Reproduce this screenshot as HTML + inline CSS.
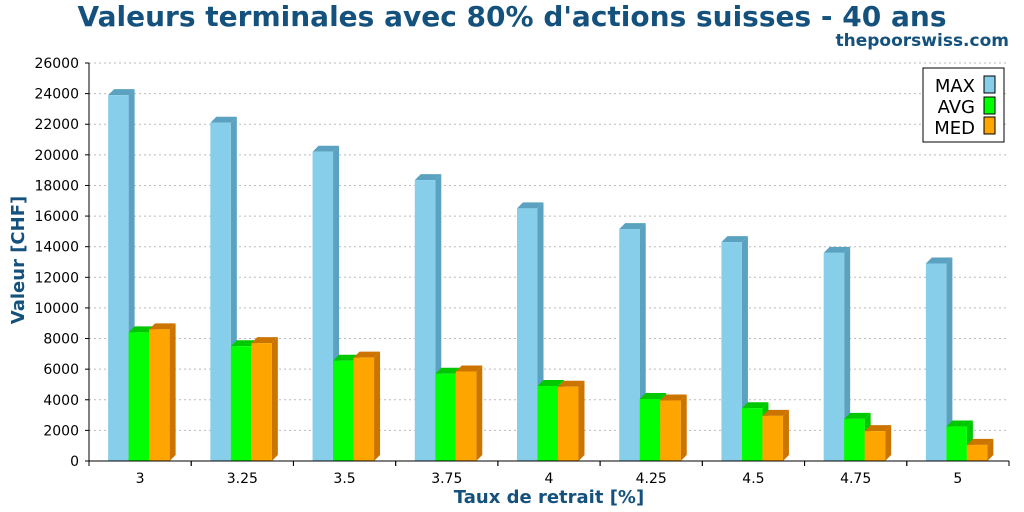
<!DOCTYPE html>
<html><head><meta charset="utf-8"><style>
body{margin:0;background:#fff;font-family:"DejaVu Sans","Liberation Sans",sans-serif;}
svg{display:block}
</style></head><body>
<svg id="chart" width="1024" height="512" xmlns="http://www.w3.org/2000/svg">
<text x="512" y="26" text-anchor="middle" font-size="28" font-weight="bold" fill="#14527d">Valeurs terminales avec 80% d'actions suisses - 40 ans</text>
<text x="1009" y="46" text-anchor="end" font-size="17" font-weight="bold" fill="#14527d">thepoorswiss.com</text>
<text transform="translate(24,260) rotate(-90)" text-anchor="middle" font-size="18" font-weight="bold" fill="#14527d">Valeur [CHF]</text>
<text x="549" y="503" text-anchor="middle" font-size="18" font-weight="bold" fill="#14527d">Taux de retrait [%]</text>
<g id="grid"></g><g id="bars"></g><g id="axes"></g>
<g>
<rect x="923" y="68" width="81" height="74" fill="#fff" stroke="#000"/>
<text x="975" y="92" text-anchor="end" font-size="18">MAX</text><rect x="984" y="76" width="11" height="17" fill="#87ceeb" stroke="#000"/>
<text x="975" y="113" text-anchor="end" font-size="18">AVG</text><rect x="984" y="97" width="11" height="17" fill="#00ff00" stroke="#000"/>
<text x="975" y="134" text-anchor="end" font-size="18">MED</text><rect x="984" y="117" width="11" height="17" fill="#ffa500" stroke="#000"/>
</g>
</svg>
<script>
const categories=["3","3.25","3.5","3.75","4","4.25","4.5","4.75","5"];
const maxVals=[23900,22100,20200,18350,16500,15150,14300,13600,12900];
const avgVals=[8400,7500,6550,5700,4900,4050,3450,2750,2250];
const medVals=[8600,7700,6750,5850,4850,3950,2950,1950,1050];
const yTicks=[0,2000,4000,6000,8000,10000,12000,14000,16000,18000,20000,22000,24000,26000];
const NS="http://www.w3.org/2000/svg";
const x0=89,x1=1009,y0=461,y1=63,yMax=26000;
const y=v=>y0-(y0-y1)*v/yMax;
const band=(x1-x0)/categories.length;
const grid=document.getElementById('grid'),bars=document.getElementById('bars'),axes=document.getElementById('axes');
function mk(tag,attrs,parent){const e=document.createElementNS(NS,tag);for(const k in attrs)e.setAttribute(k,attrs[k]);parent.appendChild(e);return e;}
yTicks.forEach(t=>{
 if(t>0){const l=mk('line',{x1:x0,x2:x1,y1:y(t),y2:y(t),stroke:'#bbb','stroke-dasharray':'2,3'},grid);
 
 }
 mk('line',{x1:x0-4,x2:x0,y1:y(t),y2:y(t),stroke:'#000'},axes);
 const tx=mk('text',{x:x0-10,y:y(t)+5,'text-anchor':'end','font-size':14},axes);tx.textContent=t;
 
 
});
mk('line',{x1:x0,x2:x0,y1:y1,y2:y0,stroke:'#000'},axes);
mk('line',{x1:x0,x2:x1,y1:y0,y2:y0,stroke:'#000'},axes);
const series=[[maxVals,'#87ceeb','#5aa2bf','max'],[avgVals,'#00ff00','#00c800','avg'],[medVals,'#ffa500','#cc7400','med']];
const bw=20.5,d=6;
categories.forEach((c,i)=>{
 const cx=x0+band*(i+0.5);
 mk('line',{x1:x0+band*(i+1),x2:x0+band*(i+1),y1:y0,y2:y0+5,stroke:'#000'},axes);
 mk('line',{x1:x0+band*i,x2:x0+band*i,y1:y0,y2:y0+5,stroke:'#000'},axes);
 const tx=mk('text',{x:cx,y:y0+22,'text-anchor':'middle','font-size':14},axes);tx.textContent=c;
 
 
 series.forEach((s,j)=>{
  const v=s[0][i],bx=cx-32+j*bw,by=y(v);
  const g=mk('g',{},bars);
  
  
  mk('polygon',{points:`${bx+bw},${by} ${bx+bw+d},${by-d} ${bx+bw+d},${y0-d} ${bx+bw},${y0}`,fill:s[2]},g);
  mk('polygon',{points:`${bx},${by} ${bx+d},${by-d} ${bx+bw+d},${by-d} ${bx+bw},${by}`,fill:s[2]},g);
  mk('rect',{x:bx,y:by,width:bw,height:y0-by,fill:s[1]},g);
 });
});
</script>
</body></html>
